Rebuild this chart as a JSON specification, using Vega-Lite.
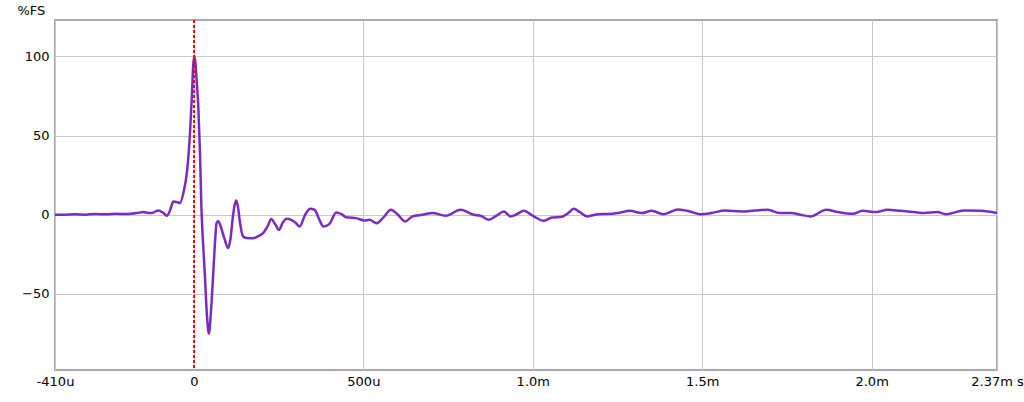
{
  "$schema": "https://vega.github.io/schema/vega-lite/v6.json",
  "width": 942,
  "height": 350,
  "autosize": "none",
  "padding": {"left": 55, "top": 20, "right": 27, "bottom": 32},
  "background": "white",
  "data": {
    "values": [
      {"t": -410, "fs": 0}, {"t": -380, "fs": 0.1}, {"t": -350, "fs": 0.3}, {"t": -320, "fs": 0.1},
      {"t": -290, "fs": 0.5}, {"t": -260, "fs": 0.3}, {"t": -230, "fs": 0.6}, {"t": -200, "fs": 0.5},
      {"t": -185, "fs": 0.7}, {"t": -168, "fs": 1.1}, {"t": -149, "fs": 1.7}, {"t": -135, "fs": 1.2},
      {"t": -124, "fs": 1.1}, {"t": -105, "fs": 2.7}, {"t": -92, "fs": 1.5}, {"t": -80, "fs": -0.6},
      {"t": -70, "fs": 3}, {"t": -61, "fs": 8.4}, {"t": -50, "fs": 8}, {"t": -41, "fs": 7.5},
      {"t": -31, "fs": 14}, {"t": -20, "fs": 28}, {"t": -12, "fs": 50}, {"t": -6, "fs": 75},
      {"t": -2, "fs": 95}, {"t": 1, "fs": 100}, {"t": 4, "fs": 97}, {"t": 8, "fs": 85},
      {"t": 13, "fs": 68}, {"t": 18, "fs": 38}, {"t": 22, "fs": 5}, {"t": 27, "fs": -18},
      {"t": 32, "fs": -37}, {"t": 38, "fs": -62}, {"t": 44, "fs": -75}, {"t": 50, "fs": -62},
      {"t": 57, "fs": -37}, {"t": 62, "fs": -18}, {"t": 67, "fs": -5}, {"t": 72, "fs": -4},
      {"t": 80, "fs": -8}, {"t": 90, "fs": -15}, {"t": 101, "fs": -21}, {"t": 108, "fs": -15},
      {"t": 114, "fs": -3}, {"t": 120, "fs": 6}, {"t": 125, "fs": 9}, {"t": 130, "fs": 5},
      {"t": 136, "fs": -5}, {"t": 145, "fs": -13.7}, {"t": 155, "fs": -14.6}, {"t": 174, "fs": -14.8},
      {"t": 190, "fs": -13.5}, {"t": 204, "fs": -11.6}, {"t": 218, "fs": -7}, {"t": 228, "fs": -2.7},
      {"t": 240, "fs": -6}, {"t": 251, "fs": -9.5}, {"t": 262, "fs": -5}, {"t": 273, "fs": -2.5},
      {"t": 287, "fs": -3.2}, {"t": 300, "fs": -5}, {"t": 312, "fs": -7.4}, {"t": 328, "fs": 0},
      {"t": 343, "fs": 3.8}, {"t": 356, "fs": 3.2}, {"t": 370, "fs": -3}, {"t": 382, "fs": -7.4},
      {"t": 400, "fs": -5.7}, {"t": 420, "fs": 1.5}, {"t": 435, "fs": 0.5}, {"t": 449, "fs": -1.5},
      {"t": 465, "fs": -1.8}, {"t": 478, "fs": -2.1}, {"t": 503, "fs": -3.6}, {"t": 518, "fs": -3.2},
      {"t": 539, "fs": -5.3}, {"t": 560, "fs": -1.5}, {"t": 581, "fs": 3.2}, {"t": 600, "fs": 0.5},
      {"t": 623, "fs": -4.2}, {"t": 645, "fs": -1}, {"t": 674, "fs": 0}, {"t": 704, "fs": 1.1},
      {"t": 743, "fs": -0.6}, {"t": 787, "fs": 3.2}, {"t": 826, "fs": 0}, {"t": 846, "fs": -0.6},
      {"t": 871, "fs": -3.2}, {"t": 893, "fs": -0.5}, {"t": 915, "fs": 2.1}, {"t": 934, "fs": -1},
      {"t": 954, "fs": 0.5}, {"t": 973, "fs": 2.5}, {"t": 1003, "fs": -1}, {"t": 1032, "fs": -3.8},
      {"t": 1057, "fs": -1.7}, {"t": 1086, "fs": -1.3}, {"t": 1104, "fs": 1}, {"t": 1121, "fs": 3.8},
      {"t": 1140, "fs": 1.5}, {"t": 1160, "fs": -1}, {"t": 1194, "fs": 0.4}, {"t": 1223, "fs": 0.5},
      {"t": 1253, "fs": 1.2}, {"t": 1287, "fs": 2.5}, {"t": 1321, "fs": 1.1}, {"t": 1351, "fs": 2.5},
      {"t": 1385, "fs": 0.4}, {"t": 1429, "fs": 3.4}, {"t": 1464, "fs": 2.1}, {"t": 1493, "fs": 0.4},
      {"t": 1527, "fs": 1.1}, {"t": 1567, "fs": 2.7}, {"t": 1616, "fs": 2.1}, {"t": 1655, "fs": 2.7},
      {"t": 1694, "fs": 3.2}, {"t": 1728, "fs": 1.1}, {"t": 1763, "fs": 1.1}, {"t": 1790, "fs": 0},
      {"t": 1821, "fs": -1}, {"t": 1866, "fs": 3.2}, {"t": 1900, "fs": 1.7}, {"t": 1944, "fs": 0.6},
      {"t": 1974, "fs": 2.5}, {"t": 2013, "fs": 1.7}, {"t": 2047, "fs": 3.2}, {"t": 2086, "fs": 2.5},
      {"t": 2126, "fs": 1.7}, {"t": 2155, "fs": 1.1}, {"t": 2194, "fs": 1.7}, {"t": 2219, "fs": 0.4},
      {"t": 2273, "fs": 2.7}, {"t": 2322, "fs": 2.5}, {"t": 2370, "fs": 1.1}
    ]
  },
  "layer": [
    {
      "mark": {"type": "line", "color": "#7B2CBF", "strokeWidth": 2.5, "interpolate": "monotone", "clip": true},
      "encoding": {
        "x": {
          "field": "t",
          "type": "quantitative",
          "scale": {"domain": [-410, 2370], "nice": false, "zero": false},
          "axis": {
            "title": null,
            "values": [-410, 0, 500, 1000, 1500, 2000, 2370],
            "labelExpr": "datum.value == -410 ? '-410u' : datum.value == 0 ? '0' : datum.value == 500 ? '500u' : datum.value == 1000 ? '1.0m' : datum.value == 1500 ? '1.5m' : datum.value == 2000 ? '2.0m' : '2.37m s'",
            "labelFlush": false,
            "labelPadding": 5
          }
        },
        "y": {
          "field": "fs",
          "type": "quantitative",
          "scale": {"domain": [-98, 123], "nice": false, "zero": false},
          "axis": {
            "title": "%FS",
            "values": [-50, 0, 50, 100],
            "labelPadding": 6,
            "titleAngle": 0,
            "titleX": -38,
            "titleY": -10,
            "titleAlign": "left",
            "titleBaseline": "middle",
            "titleFont": "DejaVu Sans",
            "titleFontSize": 13,
            "titleFontWeight": "normal",
            "titleColor": "#000000"
          }
        }
      }
    },
    {
      "mark": {"type": "rule", "color": "#FF0000", "strokeWidth": 1.5, "strokeDash": [3, 2]},
      "encoding": {"x": {"datum": 0, "type": "quantitative"}}
    }
  ],
  "config": {
    "font": "DejaVu Sans",
    "view": {"stroke": "#a8a8a8", "strokeWidth": 2},
    "axis": {
      "grid": true,
      "gridColor": "#c8c8c8",
      "gridWidth": 1,
      "domain": false,
      "ticks": false,
      "labelFont": "DejaVu Sans",
      "labelFontSize": 13,
      "labelColor": "#000000"
    }
  }
}
